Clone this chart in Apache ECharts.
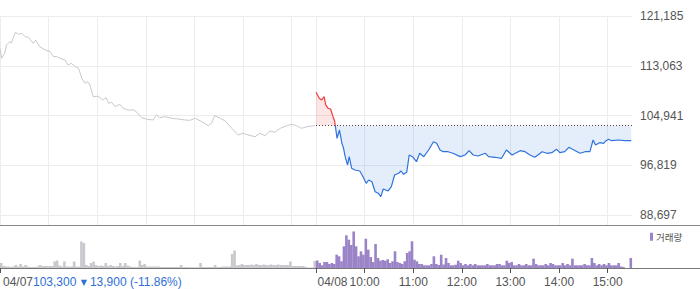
<!DOCTYPE html>
<html><head><meta charset="utf-8">
<script src="https://cdn.jsdelivr.net/npm/echarts@6/dist/echarts.min.js"></script>
<style>html,body{margin:0;padding:0;background:#fff}#c{width:700px;height:289px}</style>
</head><body><div id="c"></div>
<script>
// Minute offsets: 0..389 = 04/07 09:00-15:30, 390..779 = 04/08 09:00-15:30
const dateLabels = ['04/07', '04/08'];
const dateTickMinutes = [0, 390];
const timeLabels = ['10:00', '11:00', '12:00', '13:00', '14:00', '15:00'];
const timeTickMinutes = [450, 510, 570, 630, 690, 750];
const hourLineMinutes = [0, 60, 120, 180, 240, 300, 360, 390, 450, 510, 570, 630, 690, 750];
const priceTicks = [88697, 96819, 104941, 113063, 121185];
const prevClose = 103300;
const summaryText = ['103,300', '\u25BC', '13,900 (-11.86%)'];
const volumeName = '거래량';

const day1Minutes = [0,2,6,8,12,14,19,23,27,31,35,41,44,49,56,62,66,70,74,80,84,88,93,97,101,105,108,111,115,121,127,131,134,138,142,148,152,158,165,169,175,181,189,193,197,204,212,220,228,234,241,249,257,261,265,272,278,286,294,300,306,315,321,327,333,339,346,354,360,366,372,379,389];
const day1Prices = [115900,114280,115150,116450,116990,116780,118530,118200,118360,117810,117700,116730,117270,116170,115640,115360,114540,114600,114280,114000,113190,113460,112910,112650,111010,110200,110460,109920,108010,108100,107470,107850,106930,107100,106380,106770,106120,105840,105840,105460,104580,104320,104210,105020,104580,104750,104480,104370,104210,104150,104480,103930,103280,103670,104910,104480,104040,102850,101760,102040,101760,101480,102040,101640,102410,102200,102850,103280,103510,103280,102850,103110,103300];

const day2Minutes = [390,394,397,400,402,405,408,411,413,416,419,422,424,426,429,431,434,438,444,448,452,455,459,463,467,470,473,479,483,487,492,495,498,502,505,509,514,518,523,529,535,539,543,547,553,559,568,574,579,584,590,599,603,611,619,625,632,636,642,648,654,660,664,669,675,681,687,691,697,702,710,716,722,728,732,735,740,745,748,751,755,763,771,779];
const day2Prices = [108730,107750,107470,108010,106660,106120,106000,104750,104040,101220,102570,100400,99590,98220,96860,98220,96320,96040,95880,94950,93870,94410,94130,92500,92240,91690,92940,92620,93320,95230,95510,95880,95340,95670,98490,98220,97400,98770,98220,99310,100660,100400,99310,99030,99030,98770,98220,98490,99200,98490,98330,98770,98220,98120,97950,99310,98490,98770,99200,99030,98490,98120,98490,99030,98770,98870,99420,98870,99030,99750,99200,98770,99030,99030,100940,100130,100500,100400,100830,101060,100830,100940,100830,100830];

// volume in 3-minute buckets (relative units)
const volBucketMinutes = 3;
const volDay1 = [5,2,1.5,1.5,1,1.5,3,1.5,4,1.5, 3,1.5,1,1,1,1.5,3,2,2,2, 2,2,6.5,7.5,2.5,1.5,6.5,1.5,1.5,1.5, 6.5,1.5,1.5,26.5,25,3,2,5,6.5,3, 2,2.5,2,5,2,3,2,1.5,2,5, 2,5,2.5,1.5,1,1,1,7.5,3,4, 1.5,1.5,1.5,1.5,1.5,1.5,1,1,1,1, 1,1,1,1,3,1,1,0.8,0.8,0.8, 0.8,0.8,5,1,1,1,1,1,3,1, 1,1.5,1.5,1.5,1.5,14,17.5,2.5,3,4, 3,3,3,3.5,3,4,3,3,3.5,3, 3,3.5,3,3,3.5,3,3,3,3,6.5, 2,2,2,2,2,1.5,0.5,0.5,0.5,7];
const volDay2 = [7.5,5,2.7,6,6,4,5,4,13.3,11.7, 6.7,21.7,32.7,28.3,23,36.5,21.7,11.7,16.7,13.3, 29.3,18.3,11,6,24,10,7.3,8,7.3,8.7, 5,6.7,16.7,6,5,4,6.7,15,16.7,26.7, 8.3,6.7,4,4,2.7,2.7,2.7,4,11.7,4, 3,13.3,3.5,10,5,2.7,2.7,3.3,7.3,5, 2.7,4,2.7,4,2.7,4,2.7,2.7,2.7,2.7, 4,2.7,2.7,2.7,4,4,2.7,2.7,7.3,5, 6,2.7,2.7,4,2.7,2.7,4,2.7,2.7,9.3, 4,2.7,2.7,2.7,4,2.7,5,4,2.7,2.7, 2.7,5,2.7,4,2.7,9.3,2.7,2.7,2.7,2.7, 4,2.7,2.7,10,5,2.7,4,2.7,4,2.7, 5,2.7,2.7,2.7,5,1.5,1,0,0,10];

const totalMinutes = 780;
const slots = Array.from({length: totalMinutes + 1}, (_, i) => String(i));
const zip = (xs, ys) => xs.map((x, i) => [x, ys[i]]);
const volPairs = (vals, start) => vals.map((v, i) => [start + i * volBucketMinutes + volBucketMinutes / 2, v]);

const FONT = 'Liberation Sans, Arial, Noto Sans CJK KR, sans-serif';
const plotRight = 68;
const hidden = {show: false};

const chart = echarts.init(document.getElementById('c'), null, {renderer: 'svg'});
chart.setOption({
  animation: false,
  textStyle: {fontFamily: FONT},
  grid: [
    {left: 0, right: plotRight, top: 16, height: 209},   // vertical grid lines
    {left: 0, right: plotRight, top: 16, height: 199},   // price
    {left: 0, right: plotRight, top: 225, height: 43},   // volume + time labels
    {left: 0, right: plotRight, top: 225, height: 43},   // date labels
    {left: 0, right: 0, top: 225, height: 43}            // full-width panel lines
  ],
  xAxis: [
    {type: 'category', gridIndex: 0, data: slots, boundaryGap: false,
      axisLine: hidden, axisTick: hidden, axisLabel: hidden,
      splitLine: {show: true, interval: (i) => hourLineMinutes.includes(i), lineStyle: {color: '#ececec', width: 1}}},
    {type: 'value', gridIndex: 1, min: 0, max: totalMinutes, show: false, position: 'top'},
    {type: 'value', gridIndex: 2, min: 0, max: totalMinutes, show: false, position: 'top'},
    {type: 'category', gridIndex: 2, data: slots, boundaryGap: false, position: 'bottom',
      axisLine: {show: false},
      axisTick: {show: true, length: 5, interval: (i) => dateTickMinutes.includes(i) || timeTickMinutes.includes(i), lineStyle: {color: '#555'}},
      axisLabel: {show: true, margin: 8, color: '#555', fontSize: 12, align: 'center',
        interval: (i) => timeTickMinutes.includes(i),
        formatter: (v) => { const k = timeTickMinutes.indexOf(Number(v)); return k >= 0 ? timeLabels[k] : ''; }},
      splitLine: hidden},
    {type: 'category', gridIndex: 3, data: slots, boundaryGap: false, position: 'bottom',
      axisLine: hidden, axisTick: hidden, splitLine: hidden,
      axisLabel: {show: true, margin: 8, color: '#555', fontSize: 12, align: 'left',
        interval: (i) => dateTickMinutes.includes(i),
        formatter: (v) => {
          const k = dateTickMinutes.indexOf(Number(v));
          if (k === 0) return dateLabels[0] + '{v|' + summaryText[0] + ' }{a|' + summaryText[1] + '}{v|' + summaryText[2] + '}';
          return k > 0 ? dateLabels[k] : '';
        },
        rich: {
          v: {color: '#2f6fd6', fontSize: 12, fontFamily: FONT},
          a: {color: '#2f6fd6', fontSize: 8, fontFamily: 'DejaVu Sans', padding: [0, 3, 0, 1], verticalAlign: 'middle'}
        }}},
    {type: 'value', gridIndex: 4, position: 'bottom', axisLine: {show: true, lineStyle: {color: '#777'}},
      axisTick: hidden, axisLabel: hidden, splitLine: hidden},
    {type: 'value', gridIndex: 4, position: 'top', axisLine: {show: true, lineStyle: {color: '#888'}},
      axisTick: hidden, axisLabel: hidden, splitLine: hidden}
  ],
  yAxis: [
    {type: 'value', gridIndex: 0, show: false},
    {type: 'value', gridIndex: 1, position: 'right', min: priceTicks[0], max: priceTicks[priceTicks.length - 1],
      interval: priceTicks[1] - priceTicks[0],
      axisLine: hidden, axisTick: hidden,
      axisLabel: {margin: 8, color: '#555', fontSize: 12, formatter: (v) => Math.round(v).toLocaleString('en-US')},
      splitLine: {show: true, lineStyle: {color: '#ececec', width: 1}}},
    {type: 'value', gridIndex: 2, min: 0, max: 43, show: false},
    {type: 'value', gridIndex: 3, show: false},
    {type: 'value', gridIndex: 4, show: false}
  ],
  visualMap: {
    type: 'piecewise', show: false, seriesIndex: 1, dimension: 1,
    pieces: [
      {gt: priceTicks[0], lte: prevClose, color: '#2f73dc'},
      {gt: prevClose, lte: priceTicks[priceTicks.length - 1], color: '#f23b3b'}
    ]
  },
  legend: {
    data: [volumeName], left: 650, top: 232, padding: 0, icon: 'rect',
    itemWidth: 3, itemHeight: 8, itemGap: 0,
    textStyle: {fontSize: 9.5, color: '#555', fontFamily: 'Noto Sans CJK KR', padding: [0, 0, 0, -2]}
  },
  series: [
    {name: 'day1', type: 'line', xAxisIndex: 1, yAxisIndex: 1, data: zip(day1Minutes, day1Prices),
      showSymbol: false, symbol: 'none', silent: true,
      lineStyle: {color: '#c9c9cd', width: 1}},
    {name: 'day2', type: 'line', xAxisIndex: 1, yAxisIndex: 1, data: zip(day2Minutes, day2Prices),
      showSymbol: false, symbol: 'none', silent: true,
      lineStyle: {width: 1.2},
      areaStyle: {origin: prevClose, opacity: 0.13},
      markLine: {silent: true, symbol: 'none', label: {show: false},
        lineStyle: {color: '#444', type: [1, 2], width: 1},
        data: [[{coord: [dateTickMinutes[1], prevClose]}, {coord: [totalMinutes, prevClose]}]]}},
    {name: 'vol1', type: 'bar', xAxisIndex: 2, yAxisIndex: 2, data: volPairs(volDay1, dateTickMinutes[0]),
      barWidth: 2.6, barGap: '-100%', silent: true, itemStyle: {color: '#c8c9cd'}},
    {name: volumeName, type: 'bar', xAxisIndex: 2, yAxisIndex: 2, data: volPairs(volDay2, dateTickMinutes[1]),
      barWidth: 2.6, barGap: '-100%', silent: true, itemStyle: {color: '#9b83c7'}}
  ]
});
</script>
</body></html>
